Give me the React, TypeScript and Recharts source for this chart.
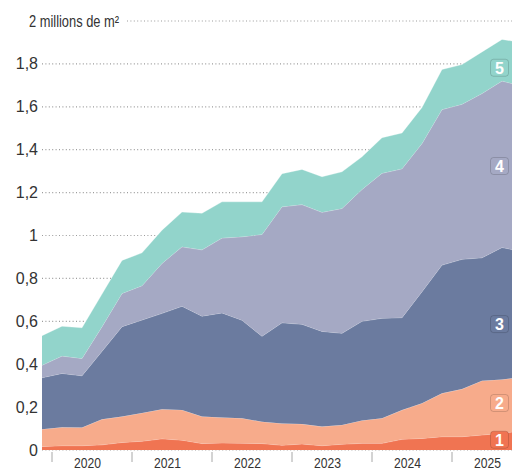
import React from "react";
import {
  Area,
  AreaChart,
  CartesianGrid,
  ReferenceDot,
  XAxis,
  YAxis,
} from "recharts";

// quarterly surfaces, millions of m² (the last quarter runs past the right edge)
const quarters = [
  "2019-T4",
  "2020-T1", "2020-T2", "2020-T3", "2020-T4",
  "2021-T1", "2021-T2", "2021-T3", "2021-T4",
  "2022-T1", "2022-T2", "2022-T3", "2022-T4",
  "2023-T1", "2023-T2", "2023-T3", "2023-T4",
  "2024-T1", "2024-T2", "2024-T3", "2024-T4",
  "2025-T1", "2025-T2", "2025-T3", "2025-T4",
];

const serie1 = [
  0.016, 0.02, 0.02, 0.024, 0.035, 0.041, 0.052, 0.046, 0.03, 0.033, 0.032, 0.03,
  0.022, 0.028, 0.02, 0.027, 0.031, 0.031, 0.05, 0.054, 0.062, 0.062, 0.07, 0.078, 0.09,
];
const serie2 = [
  0.081, 0.086, 0.085, 0.119, 0.121, 0.132, 0.138, 0.141, 0.126, 0.119, 0.116, 0.102,
  0.102, 0.093, 0.089, 0.09, 0.107, 0.117, 0.136, 0.164, 0.202, 0.222, 0.253, 0.251, 0.249,
];
const serie3 = [
  0.24, 0.251, 0.241, 0.317, 0.419, 0.433, 0.447, 0.483, 0.468, 0.487, 0.457, 0.398,
  0.469, 0.465, 0.444, 0.427, 0.462, 0.466, 0.431, 0.52, 0.598, 0.605, 0.573, 0.615, 0.587,
];
const serie4 = [
  0.058, 0.081, 0.081, 0.115, 0.155, 0.16, 0.233, 0.277, 0.309, 0.349, 0.389, 0.475,
  0.541, 0.558, 0.555, 0.582, 0.615, 0.676, 0.694, 0.691, 0.725, 0.723, 0.766, 0.776, 0.772,
];
const serie5 = [
  0.138, 0.139, 0.143, 0.152, 0.154, 0.153, 0.155, 0.162, 0.171, 0.169, 0.163, 0.152,
  0.154, 0.164, 0.166, 0.171, 0.152, 0.166, 0.167, 0.168, 0.187, 0.185, 0.194, 0.194, 0.202,
];

const years = [2020, 2021, 2022, 2023, 2024, 2025];
const yTicks = [0, 0.2, 0.4, 0.6, 0.8, 1, 1.2, 1.4, 1.6, 1.8, 2];

// band numbers shown at the right edge, with the level where each one sits
const badgeNames = ["1", "2", "3", "4", "5"];
const badgeLevels = [0.048, 0.219, 0.587, 1.324, 1.782];

const colors = ["#f07452", "#f7ab8b", "#6b7b9f", "#a5a9c4", "#92d4cb"];
const series = [serie1, serie2, serie3, serie4, serie5];

const FONT = "'Liberation Sans Narrow', 'Arial Narrow', 'Liberation Sans', sans-serif";

function quarterToT(q: string): number {
  const [y, t] = q.split("-T");
  return Number(y) + (Number(t) - 0.5) / 4;
}

const rows = quarters.map((q, i) => ({
  q,
  t: quarterToT(q),
  s1: serie1[i],
  s2: serie2[i],
  s3: serie3[i],
  s4: serie4[i],
  s5: serie5[i],
}));

function YearTick(props: any) {
  const { x, payload } = props;
  return (
    <g>
      <line x1={x} x2={x} y1={452} y2={462} stroke="#a8a8a8" strokeWidth={1} />
      <text
        x={x + 35.5}
        y={468}
        textAnchor="middle"
        fontFamily={FONT}
        fontSize={15.5}
        fill="#333"
        textLength={27}
        lengthAdjust="spacingAndGlyphs"
      >
        {payload.value}
      </text>
    </g>
  );
}

function ValueTick(props: any) {
  const { y, payload } = props;
  const v = Number(payload.value);
  if (v === 2) {
    return (
      <g>
        <rect x={24} y={8} width={102} height={24} fill="#fff" />
        <text
          x={29}
          y={y + 5.5}
          fontFamily={FONT}
          fontSize={16}
          fill="#333"
          textLength={90}
          lengthAdjust="spacingAndGlyphs"
        >
          2 millions de m²
        </text>
      </g>
    );
  }
  const label = String(v).replace(".", ",");
  return (
    <text
      x={38}
      y={y + 5.5}
      textAnchor="end"
      fontFamily={FONT}
      fontSize={16}
      fill="#333"
    >
      {label}
    </text>
  );
}

function Badge(props: any) {
  const { cx, cy, color, name } = props;
  return (
    <g>
      <rect
        x={cx - 9}
        y={cy - 8.5}
        width={18}
        height={17}
        rx={3}
        fill={color}
        stroke="rgba(0,0,0,0.15)"
        strokeWidth={1}
      />
      <text
        x={cx}
        y={cy + 6}
        textAnchor="middle"
        fontFamily={FONT}
        fontWeight="bold"
        fontSize={16}
        fill="#fff"
      >
        {name}
      </text>
    </g>
  );
}

export default function App() {
  return (
    <div
      style={{
        position: "absolute",
        left: 0,
        top: 0,
        width: 512,
        height: 471,
        background: "#fff",
      }}
    >
      <AreaChart
        width={512}
        height={471}
        data={rows}
        margin={{ top: 21, right: 0, bottom: 0, left: 0 }}
      >
        <CartesianGrid
          vertical={false}
          stroke="#9c9c9c"
          strokeWidth={1.2}
          strokeDasharray="1 2.4"
        />
        <XAxis
          type="number"
          dataKey="t"
          domain={[2019.875, 2025.75]}
          allowDataOverflow
          ticks={years}
          interval={0}
          height={21}
          axisLine={false}
          tickLine={false}
          tickSize={0}
          tickMargin={0}
          tick={<YearTick />}
        />
        <YAxis
          domain={[0, 2]}
          ticks={yTicks}
          interval={0}
          width={42}
          axisLine={false}
          tickLine={false}
          tick={<ValueTick />}
        />
        {series.map((_, i) => (
          <Area
            key={i}
            type="linear"
            dataKey={`s${i + 1}`}
            stackId="surf"
            stroke="#ffffff"
            strokeOpacity={0.45}
            strokeWidth={0.7}
            fill={colors[i]}
            fillOpacity={1}
            isAnimationActive={false}
          />
        ))}
        {badgeNames.map((name, i) => (
          <ReferenceDot
            key={name}
            x={2025.594}
            y={badgeLevels[i]}
            ifOverflow="visible"
            shape={<Badge color={colors[i]} name={name} />}
          />
        ))}
      </AreaChart>
    </div>
  );
}
